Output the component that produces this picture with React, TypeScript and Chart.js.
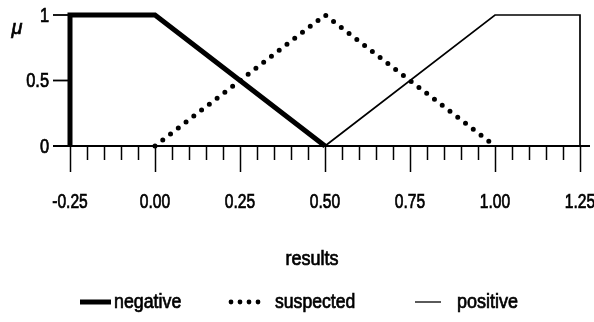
import React, { useEffect, useRef } from "react";
import { Chart, registerables } from "chart.js";

Chart.register(...registerables);

const negativeX = [-0.25, -0.25, 0, 0.5];
const negativeY = [0, 1, 1, 0];
const suspectedX = [0, 0.5, 1];
const suspectedY = [0, 1, 0];
const positiveX = [0.5, 1, 1.25, 1.25];
const positiveY = [0, 1, 1, 0];
const xTickLabels = ["-0.25", "0.00", "0.25", "0.50", "0.75", "1.00", "1.25"];
const xTickValues = [-0.25, 0, 0.25, 0.5, 0.75, 1, 1.25];
const yTickLabels = ["0", "0.5", "1"];
const yTickValues = [0, 0.5, 1];
const legendLabels = ["negative", "suspected", "positive"];

const FONT = '"Liberation Sans", Arial, sans-serif';

const toPts = (xs: number[], ys: number[]) => xs.map((x, i) => ({ x, y: ys[i] }));

function narrowText(ctx: any, text: string, x: number, y: number, align: string, sx: number) {
  ctx.save();
  ctx.translate(x, y);
  ctx.scale(sx, 1);
  ctx.textAlign = align;
  ctx.lineWidth = 0.7;
  ctx.strokeStyle = "#000";
  ctx.fillText(text, 0, 0);
  ctx.strokeText(text, 0, 0);
  ctx.restore();
}

const axesPlugin = {
  id: "customAxes",
  beforeDatasetsDraw(chart: any) {
    const ctx = chart.ctx;
    const xs = chart.scales.x;
    const ys = chart.scales.y;
    const y0 = ys.getPixelForValue(0);
    ctx.save();
    ctx.strokeStyle = "#000";
    ctx.lineWidth = 1.8;
    ctx.beginPath();
    ctx.moveTo(53, y0);
    ctx.lineTo(590, y0);
    ctx.stroke();
    // y ticks
    yTickValues.forEach((v) => {
      const py = ys.getPixelForValue(v);
      ctx.beginPath();
      ctx.moveTo(53, py);
      ctx.lineTo(xs.getPixelForValue(-0.25), py);
      ctx.stroke();
    });
    // x ticks
    ctx.lineWidth = 1.5;
    for (let i = 0; i <= 30; i++) {
      const v = -0.25 + i * 0.05;
      const px = Math.round(xs.getPixelForValue(v)) + 0.5;
      const major = i % 5 === 0;
      ctx.beginPath();
      ctx.moveTo(px, y0);
      ctx.lineTo(px, y0 + (major ? 26 : 14));
      ctx.stroke();
    }
    ctx.restore();
  },
  afterDraw(chart: any) {
    const ctx = chart.ctx;
    const xs = chart.scales.x;
    const ys = chart.scales.y;
    ctx.save();
    ctx.fillStyle = "#000";
    ctx.font = `20px ${FONT}`;
    ctx.textBaseline = "middle";
    xTickValues.forEach((v, i) => {
      narrowText(ctx, xTickLabels[i], xs.getPixelForValue(v), 202, "center", 0.78);
    });
    yTickValues.forEach((v, i) => {
      narrowText(ctx, yTickLabels[i], 49, ys.getPixelForValue(v) + 1, "right", 0.82);
    });
    ctx.font = `italic 21px ${FONT}`;
    narrowText(ctx, "μ", 17, 28, "center", 0.95);
    ctx.font = `20px ${FONT}`;
    narrowText(ctx, "results", 312, 259, "center", 0.9);
    // legend
    const ly = 302;
    ctx.strokeStyle = "#000";
    ctx.lineWidth = 5;
    ctx.beginPath();
    ctx.moveTo(80, ly);
    ctx.lineTo(111, ly);
    ctx.stroke();
    narrowText(ctx, legendLabels[0], 114, ly, "left", 0.89);
    for (let i = 0; i < 4; i++) {
      ctx.beginPath();
      ctx.arc(231 + i * 9, ly, 2.4, 0, Math.PI * 2);
      ctx.fill();
    }
    narrowText(ctx, legendLabels[1], 275, ly, "left", 0.88);
    ctx.lineWidth = 1.3;
    ctx.beginPath();
    ctx.moveTo(415, ly);
    ctx.lineTo(441, ly);
    ctx.stroke();
    narrowText(ctx, legendLabels[2], 457, ly, "left", 0.9);
    ctx.restore();
  },
};

export default function App() {
  const ref = useRef<HTMLCanvasElement | null>(null);
  useEffect(() => {
    document.body.style.margin = "0";
    const canvas = ref.current!;
    const chart = new Chart(canvas, {
      type: "scatter",
      data: {
        datasets: [
          {
            label: legendLabels[0],
            data: toPts(negativeX, negativeY),
            showLine: true,
            borderColor: "#000",
            borderWidth: 5,
            borderJoinStyle: "miter",
            pointRadius: 0,
            clip: false as any,
          },
          {
            label: legendLabels[1],
            data: toPts(suspectedX, suspectedY),
            showLine: true,
            borderColor: "#000",
            borderWidth: 5,
            borderDash: [0, 9.8],
            borderCapStyle: "round",
            pointRadius: 0,
            clip: false as any,
          },
          {
            label: legendLabels[2],
            data: toPts(positiveX, positiveY),
            showLine: true,
            borderColor: "#000",
            borderWidth: 1.7,
            pointRadius: 0,
            clip: false as any,
          },
        ],
      },
      options: {
        responsive: false,
        animation: false,
        layout: { padding: { left: 70, right: 14, top: 15, bottom: 176 } },
        scales: {
          x: { type: "linear", min: -0.25, max: 1.25, display: false },
          y: { type: "linear", min: 0, max: 1, display: false },
        },
        plugins: { legend: { display: false }, tooltip: { enabled: false } },
      },
      plugins: [axesPlugin],
    });
    return () => chart.destroy();
  }, []);
  return (
    <div style={{ position: "absolute", left: 0, top: 0, width: 594, height: 322, background: "#fff" }}>
      <canvas ref={ref} width={594} height={322} />
    </div>
  );
}
